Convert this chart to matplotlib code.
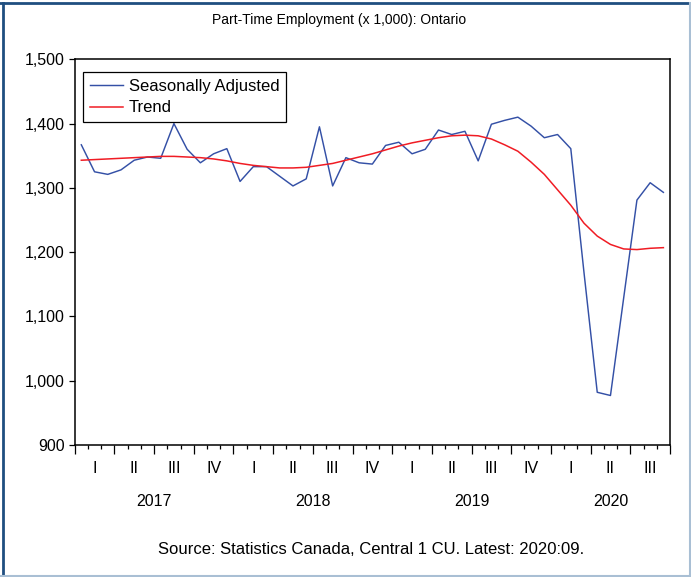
import matplotlib
matplotlib.use("Agg")
import matplotlib.pyplot as plt
import matplotlib.ticker as mticker
from matplotlib.lines import Line2D

plt.rcParams['font.family'] = ['Liberation Sans', 'DejaVu Sans']

# Datos mensuales ene 2017 - sep 2020 (miles)
years = ['2017', '2018', '2019', '2020']
quarters = ['I', 'II', 'III', 'IV']
seasonally_adjusted = [1367, 1325, 1321, 1328, 1343, 1348, 1346, 1400, 1360, 1339,
                       1353, 1361, 1310, 1333, 1333, 1318, 1303, 1314, 1395, 1303,
                       1347, 1339, 1337, 1366, 1371, 1353, 1360, 1390, 1383, 1388,
                       1342, 1399, 1405, 1410, 1396, 1378, 1383, 1361, 1168, 982,
                       977, 1129, 1281, 1308, 1293]
trend = [1343, 1344, 1345, 1346, 1347, 1348, 1349, 1349, 1348, 1347,
         1345, 1342, 1338, 1335, 1333, 1331, 1331, 1332, 1335, 1338,
         1343, 1348, 1353, 1359, 1365, 1370, 1374, 1378, 1381, 1382,
         1381, 1376, 1367, 1357, 1340, 1321, 1297, 1273, 1245, 1225,
         1212, 1205, 1204, 1206, 1207]

n = len(seasonally_adjusted)
x = [i + 0.5 for i in range(n)]

fig = plt.figure(figsize=(6.91, 5.77), dpi=100)
ax = fig.add_axes([74.7 / 691, 1 - 445 / 577, (670 - 74.7) / 691, (445 - 59.3) / 577])

ax.plot(x, seasonally_adjusted, color='#3450a6', lw=1.05, label='Seasonally Adjusted')
ax.plot(x, trend, color='#f01c24', lw=1.1, label='Trend')

ax.set_xlim(0, n)
ax.set_ylim(900, 1500)
ax.yaxis.set_major_locator(mticker.MultipleLocator(100))
ax.yaxis.set_major_formatter(mticker.FuncFormatter(lambda v, p: f'{int(v):,}'))
ax.tick_params(axis='y', direction='out', length=4, width=0.9, pad=3, labelsize=11.5)

# ticks de meses y trimestres
ax.set_xticks(range(0, n + 1, 3))
ax.set_xticks(range(0, n + 1), minor=True)
ax.tick_params(axis='x', which='major', direction='out', length=6.5, width=0.9, labelbottom=False)
ax.tick_params(axis='x', which='minor', direction='out', length=3, width=0.9)

for sp in ax.spines.values():
    sp.set_linewidth(1.1)

trans = ax.get_xaxis_transform()
for q in range(n // 3):
    ax.text(q * 3 + 1.5, -0.06, quarters[q % 4], transform=trans,
            ha='center', va='center', fontsize=11.5)
for k, yr in enumerate(years):
    start = k * 12
    end = min(start + 12, n)
    ax.text((start + end) / 2, -0.146, yr, transform=trans,
            ha='center', va='center', fontsize=11.5)

leg = ax.legend(loc='upper left', bbox_to_anchor=(0.014, 0.966), borderaxespad=0,
                prop={'size': 12}, fancybox=False, edgecolor='black', framealpha=1,
                handlelength=2.0, handletextpad=0.36, labelspacing=0.38,
                borderpad=0.4)
leg.get_frame().set_linewidth(0.9)

fig.text(339 / 691, 1 - 20 / 577, 'Part-Time Employment (x 1,000): Ontario',
         ha='center', va='center', fontsize=10)
fig.text(371 / 691, 1 - 549 / 577, 'Source: Statistics Canada, Central 1 CU. Latest: 2020:09.',
         ha='center', va='center', fontsize=12)

# marco exterior
fig.add_artist(Line2D([0.004, 0.004], [0.0, 0.994], transform=fig.transFigure, color='#1f4e80', lw=2))
fig.add_artist(Line2D([0.0, 1.0], [0.994, 0.994], transform=fig.transFigure, color='#1f4e80', lw=2))
fig.add_artist(Line2D([0.998, 0.998], [0.0, 0.994], transform=fig.transFigure, color='#a9bfd4', lw=1.5))
fig.add_artist(Line2D([0.0, 1.0], [0.002, 0.002], transform=fig.transFigure, color='#a9bfd4', lw=1.5))

fig.savefig('out.png', dpi=100)
